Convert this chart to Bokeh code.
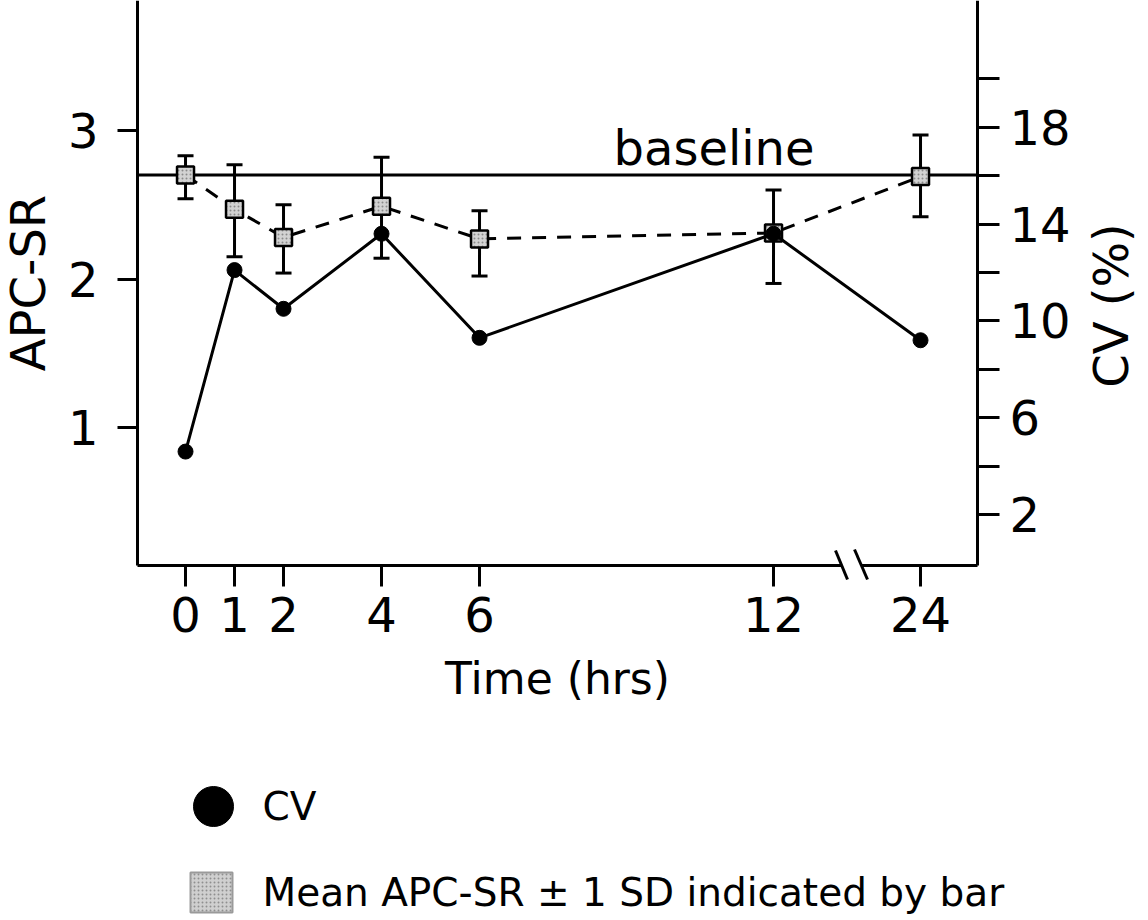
import math
from bokeh.plotting import figure
from bokeh.models import Range1d, LinearAxis, FixedTicker, Label, ColumnDataSource
from bokeh.embed import file_html
from bokeh.resources import INLINE
from bokeh.core.properties import value

# ---- data ----
time_labels = ["0", "1", "2", "4", "6", "12", "24"]
time_pos = [0, 1, 2, 4, 6, 12, 15]          # axis positions (axis is broken between 12 and 24)
cv_pct = [4.6, 12.1, 10.5, 13.6, 9.3, 13.6, 9.2]
apc_mean = [2.70, 2.47, 2.28, 2.49, 2.27, 2.31, 2.69]
apc_lower = [2.54, 2.15, 2.04, 2.14, 2.02, 1.97, 2.42]
apc_upper = [2.83, 2.77, 2.50, 2.82, 2.46, 2.60, 2.97]
baseline_apc = 2.7
apc_ticks = [1, 2, 3]
cv_major_ticks = [2, 6, 10, 14, 18]
cv_minor_ticks = [4, 8, 12, 16, 20]
legend_labels = ["CV", "Mean APC-SR \u00b1 1 SD indicated by bar"]

FONT = "DejaVu Sans"
W, H = 1144, 918

# ---- layout helpers: page pixel -> data coordinate ----
PX_L, PX_R, PY_B = 137, 977, 565          # left spine, right spine, bottom spine


def xd(px):
    return -0.98 + (px - PX_L) / 49.0


def ya(py):
    return 3 + (130 - py) / 148.5


def yc(py):
    return 2 + (514 - py) / 24.2


X0, X1 = xd(PX_L), xd(PX_R)
Y0, Y1 = ya(PY_B), ya(0)
C0, C1 = yc(PY_B), yc(0)

p = figure(width=W, height=H,
           x_range=Range1d(xd(0), xd(W)), y_range=Range1d(ya(H), ya(0)),
           output_backend="svg", toolbar_location=None,
           min_border_left=0, min_border_right=0, min_border_top=0, min_border_bottom=0,
           x_axis_label="Time (hrs)", y_axis_label="APC-SR")
p.extra_y_ranges = {"cv": Range1d(yc(H), yc(0))}
p.outline_line_color = None
p.grid.visible = False


def style_axis(ax):
    ax.axis_line_width = 3
    ax.axis_line_color = "black"
    ax.major_tick_line_width = 3
    ax.minor_tick_line_width = 3
    ax.major_tick_line_color = "black"
    ax.minor_tick_line_color = "black"
    ax.major_tick_in = 0
    ax.minor_tick_in = 0
    ax.major_label_text_font = FONT
    ax.major_label_text_font_size = "48px"
    ax.major_label_text_color = "black"
    ax.axis_label_text_font = FONT
    ax.axis_label_text_font_size = "48px"
    ax.axis_label_text_font_style = "normal"
    ax.axis_label_text_color = "black"


xa = p.xaxis[0]
style_axis(xa)
xa.fixed_location = Y0
xa.bounds = (X0, X1)
xa.ticker = FixedTicker(ticks=time_pos, minor_ticks=[])
xa.major_label_overrides = {pos: lab for pos, lab in zip(time_pos, time_labels)}
xa.major_tick_out = 21
xa.minor_tick_out = 0
xa.major_label_standoff = 10
xa.axis_label_standoff = 18
xa.axis_label_text_font_size = "44px"
xa.axis_line_color = None   # bottom spine drawn below, with the break gap

yl = p.yaxis[0]
style_axis(yl)
yl.fixed_location = X0
yl.bounds = (Y0, Y1)
yl.ticker = FixedTicker(ticks=apc_ticks, minor_ticks=[])
yl.major_tick_out = 20
yl.minor_tick_out = 0
yl.major_label_standoff = 19
yl.axis_label_standoff = 9

ra = LinearAxis(y_range_name="cv", fixed_location=X1, bounds=(C0, C1),
                ticker=FixedTicker(ticks=cv_major_ticks, minor_ticks=cv_minor_ticks))
style_axis(ra)
ra.major_tick_out = 22
ra.minor_tick_out = 22
ra.major_label_standoff = 10
p.add_layout(ra, "right")

# right axis title, reading bottom to top
p.text(x=[xd(1110)], y=[ya(305)], text=["CV (%)"], angle=math.pi / 2,
       text_align="center", text_baseline="middle", text_font=value(FONT),
       text_font_size=value("48px"), text_color="black")

# bottom spine with a gap at the axis break, and the break marks
p.segment(x0=[X0, xd(861)], x1=[xd(841), X1], y0=[Y0, Y0], y1=[Y0, Y0],
          line_width=3, line_color="black")
p.segment(x0=[xd(835), xd(854)], y0=[ya(550), ya(549)], x1=[xd(847), xd(867)], y1=[ya(579), ya(579)],
          line_width=3, line_color="black")

src = ColumnDataSource(dict(x=time_pos, cv=cv_pct, mean=apc_mean, lo=apc_lower, hi=apc_upper))

# baseline
p.segment(x0=[X0], x1=[X1], y0=[baseline_apc], y1=[baseline_apc], line_width=3, line_color="black")
p.add_layout(Label(x=xd(613), y=ya(147), text="baseline", text_font=FONT,
                   text_font_size="48px", text_color="black", text_baseline="alphabetic"))

# error bars
p.segment(x0="x", y0="lo", x1="x", y1="hi", source=src, line_width=3, line_color="black")
p.scatter(x="x", y="hi", source=src, marker="dash", size=16, line_width=3, line_color="black")
p.scatter(x="x", y="lo", source=src, marker="dash", size=16, line_width=3, line_color="black")
# mean APC-SR (dashed + stippled squares)
p.line(x="x", y="mean", source=src, line_dash="14 11", line_width=3, line_color="black")
p.scatter(x="x", y="mean", source=src, marker="square", size=17,
          fill_color="#d2d2d2", hatch_pattern="dot", hatch_color="#8a8a8a", hatch_scale=4,
          line_color="black", line_width=2.5)
# CV (solid + dots)
p.line(x="x", y="cv", source=src, y_range_name="cv", line_width=3, line_color="black")
p.scatter(x="x", y="cv", source=src, y_range_name="cv", size=15, fill_color="black", line_color="black")

# ---- legend (below the axis) ----
p.scatter(x=[xd(213)], y=[ya(806)], size=40, fill_color="black", line_color="black")
p.rect(x=[xd(211)], y=[ya(892)], width=42, height=40, width_units="screen", height_units="screen",
       fill_color="#cfcfcf", hatch_pattern="dot", hatch_color="#8f8f8f", hatch_scale=4,
       line_color="#9a9a9a", line_width=2)
p.text(x=[xd(262), xd(262)], y=[ya(806), ya(892)], text=legend_labels, text_font=value(FONT),
       text_font_size=value("39px"), text_color="black", text_baseline="middle")

open("out.html", "w").write(file_html(p, INLINE))
